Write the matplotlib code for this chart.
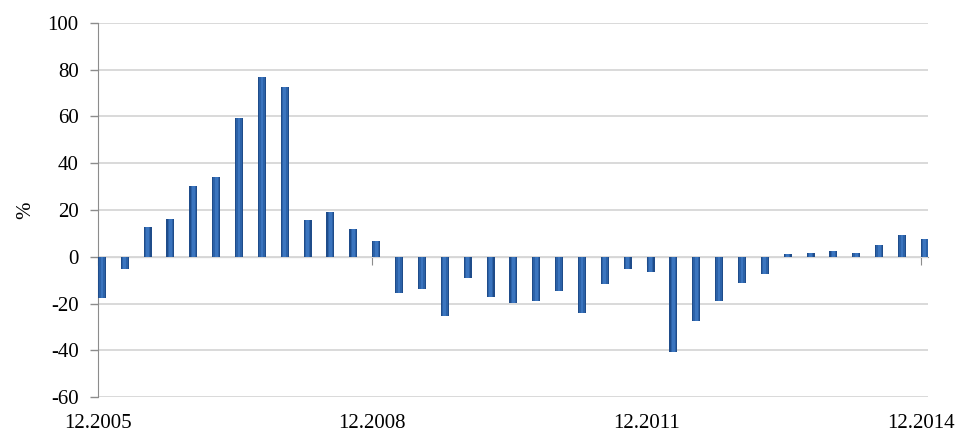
import matplotlib.pyplot as plt
import numpy as np

# Quarterly change, %, from 12.2005 to 12.2014
quarters = [
    "12.2005", "03.2006", "06.2006", "09.2006", "12.2006", "03.2007", "06.2007",
    "09.2007", "12.2007", "03.2008", "06.2008", "09.2008", "12.2008", "03.2009",
    "06.2009", "09.2009", "12.2009", "03.2010", "06.2010", "09.2010", "12.2010",
    "03.2011", "06.2011", "09.2011", "12.2011", "03.2012", "06.2012", "09.2012",
    "12.2012", "03.2013", "06.2013", "09.2013", "12.2013", "03.2014", "06.2014",
    "09.2014", "12.2014",
]
change = [
    -17.5, -5.4, 12.9, 16.1, 30.3, 34.3, 59.3, 77.1, 72.6, 15.7, 19.3, 11.9, 6.9,
    -15.4, -13.6, -25.4, -9.3, -17.1, -19.7, -18.9, -14.6, -24.0, -11.7, -5.4,
    -6.4, -40.7, -27.4, -18.9, -11.1, -7.4, 1.0, 1.4, 2.6, 1.4, 5.0, 9.1, 7.6,
]
yticks = [-60, -40, -20, 0, 20, 40, 60, 80, 100]
label_every = 12

plt.rcParams["font.family"] = ["Liberation Serif", "DejaVu Serif"]

fig = plt.figure(figsize=(9.6, 4.37), dpi=100)
ax = fig.add_axes([0.1021, 0.0915, 0.8646, 0.8559])

x = np.arange(len(change))
width = 0.35
# cylinder-like shading: dark body, lighter core
ax.bar(x, change, width=width, color="#1f4c8a", zorder=3)
ax.bar(x, change, width=width * 0.7, color="#2c62a8", zorder=4)
ax.bar(x, change, width=width * 0.35, color="#3b75bf", zorder=5)

ax.set_ylim(-60, 100)
ax.set_xlim(-0.17, len(change) - 1 + 0.14)
ax.set_yticks(yticks)
ax.set_yticklabels([str(v) for v in yticks], fontsize=15)
ax.yaxis.grid(True, color="#d9d9d9", lw=1.4, zorder=0)
ax.set_axisbelow(True)

pos = x[::label_every] - 0.17
ax.set_xticks(pos)
ax.set_xticklabels(quarters[::label_every], fontsize=15)
ax.tick_params(axis="x", length=0, pad=12)
ax.tick_params(axis="y", length=6, color="#8c8c8c", width=1, pad=8)

for side in ["top", "right", "bottom"]:
    ax.spines[side].set_visible(False)
ax.spines["left"].set_color("#8c8c8c")

# zero line with its own small ticks
zero = ax.secondary_xaxis(60 / 160)
zero.spines["bottom"].set_color("#8c8c8c")
zero.set_xticks(pos)
zero.set_xticklabels([])
zero.tick_params(axis="x", length=6, color="#8c8c8c", direction="out")

ax.set_ylabel("%", fontsize=15, labelpad=9)

fig.savefig("out.png", dpi=100)
